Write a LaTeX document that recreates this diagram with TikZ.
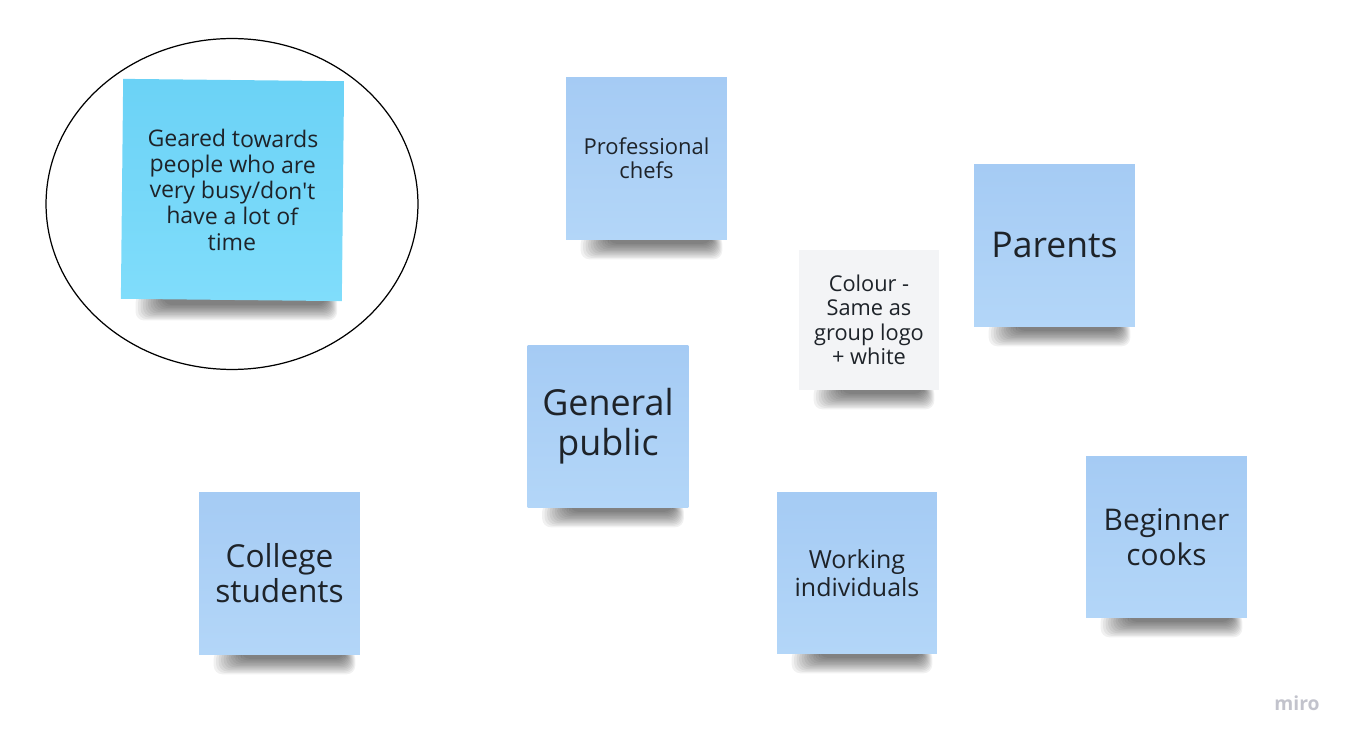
\documentclass[tikz,border=0pt]{standalone}
\usepackage{fontspec}
\setmainfont{Open Sans}[Ligatures=TeXOff]
\usepackage{xcolor}
\usetikzlibrary{shapes.geometric,backgrounds}
\definecolor{noteblue}{HTML}{A5CBF4}
\definecolor{noteblueb}{HTML}{B3D6F8}
\definecolor{notecyan}{HTML}{6BD2F6}
\definecolor{notecyanb}{HTML}{80DDFB}
\definecolor{notegrey}{HTML}{F3F4F6}
\definecolor{notetext}{HTML}{1E2329}
\definecolor{brand}{HTML}{C2C3CC}
\newcommand{\fs}[2]{\fontsize{#1}{#2}\selectfont}

\begin{document}
\begin{tikzpicture}[x=0.02cm, y=-0.02cm,
    sticky/.style={rectangle, inner sep=0pt, align=center, text=notetext,
        minimum width=3.22cm, minimum height=3.26cm},
    bluenote/.style={sticky, top color=noteblue, bottom color=noteblueb},
    cyannote/.style={sticky, top color=notecyan, bottom color=notecyanb},
    greynote/.style={sticky, fill=notegrey},
    shadowband/.style={black, opacity=0.055, rounded corners=5pt}]

    \useasboundingbox (0,0) rectangle (1350,740);

    % Ring around the main note
    \node[draw, ellipse, line width=0.7pt, minimum width=7.44cm, minimum height=6.62cm] (ring) at (232,204) {};

    % Main note
    \node[cyannote, minimum width=4.42cm, minimum height=4.4cm, rotate=-0.6,
        font=\fs{13.1}{14.7}] (geared) at (232.5,190)
        {Geared towards\\people who are\\very busy/don't\\have a lot of\\time};

    % Top row
    \node[bluenote, font=\fs{12.5}{13.8}] (chefs) at (646.5,158.5) {Professional\\chefs};
    \node[bluenote, font=\fs{20.2}{22}] (parents) at (1054.5,245.5) {Parents};
    \node[greynote, minimum width=2.8cm, minimum height=2.8cm, font=\fs{12.4}{13.9}] (colour) at (869,320)
        {Colour -\\Same as\\group logo\\+ white};

    % Middle
    \node[bluenote, font=\fs{20.4}{22.7}] (general) at (608,426.5) {General\\public};

    % Bottom row
    \node[bluenote, font=\fs{18}{19.8}] (college) at (279.5,573.5) {College\\students};
    \node[bluenote, minimum width=3.2cm, minimum height=3.24cm, font=\fs{14.2}{15.9}] (working) at (857,573)
        {Working\\individuals};
    \node[bluenote, minimum height=3.24cm, font=\fs{17}{19.8}] (beginner) at (1166.5,537) {Beginner\\cooks};

    % Shadows under the notes
    \begin{scope}[on background layer]
        \foreach \n in {geared, chefs, parents, colour, general, college, working, beginner} {
            \foreach \k in {0,...,11} {
                \fill[shadowband] ([xshift={(0.3+0.05*\k)*1cm}, yshift=3pt]\n.south west)
                    rectangle ([xshift={-(0.1+0.02*\k)*1cm}, yshift={-(0.38-0.028*\k)*1cm}]\n.south east);
            }
        }
    \end{scope}

    % Watermark
    \node[font=\fs{11}{13}\bfseries, text=brand] (logo) at (1297,703) {miro};

\end{tikzpicture}
\end{document}
